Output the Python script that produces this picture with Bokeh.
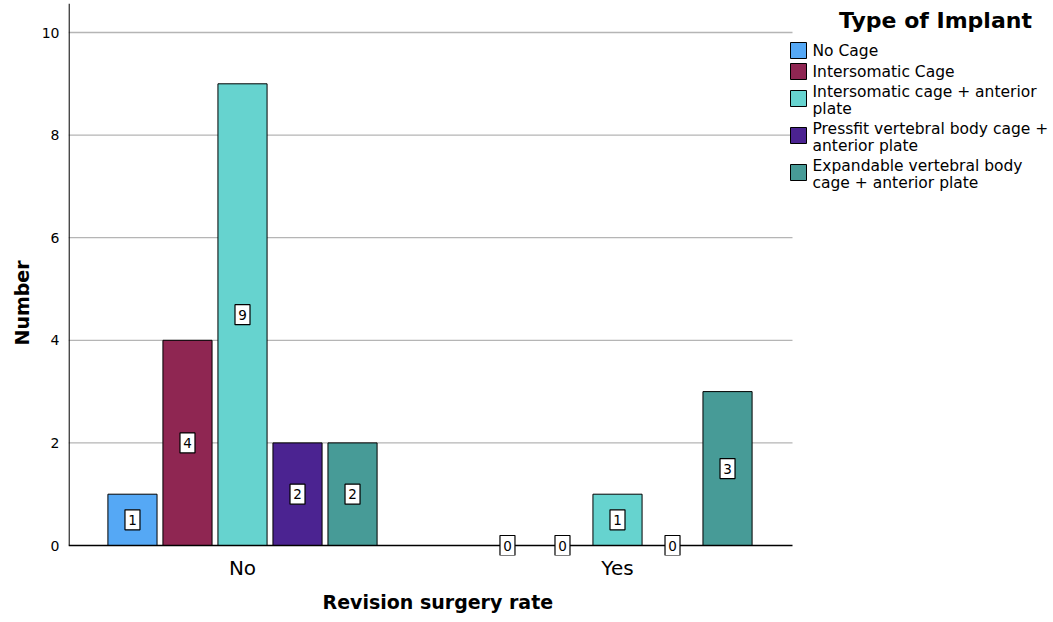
from bokeh.plotting import figure
from bokeh.models import ColumnDataSource, Range1d, FixedTicker, Title
from bokeh.core.properties import value
from bokeh.transform import dodge
from bokeh.embed import file_html
from bokeh.resources import INLINE

# ---- data ----
groups = ["No", "Yes"]
group_pos = [1, 2]
implants = ["No Cage", "Intersomatic Cage", "Intersomatic cage + anterior\nplate",
            "Pressfit vertebral body cage +\nanterior plate",
            "Expandable vertebral body\ncage + anterior plate"]
no_cage = [1, 0]
intersomatic = [4, 0]
intersomatic_plate = [9, 1]
pressfit_plate = [2, 0]
expandable_plate = [2, 3]
series = [no_cage, intersomatic, intersomatic_plate, pressfit_plate, expandable_plate]
colors = ["#55a8f5", "#8f2652", "#66d3cf", "#4b2391", "#479b97"]
y_ticks = [0, 2, 4, 6, 8, 10]
legend_title = "Type of Implant"
x_title = "Revision surgery rate"
y_title = "Number"

FONT = "DejaVu Sans"

W, H = 1052, 620
LEFT, TOP, BOTTOM = 68, 3, 555          # frame edges in page pixels
PX_X = 375.0                             # px per x unit
PX_Y = 51.3                              # px per y unit
X0 = 0.536
X1 = X0 + (W - LEFT) / PX_X
Y1 = (545 - TOP) / PX_Y
Y0 = (545 - BOTTOM) / PX_Y
X_AXIS_END = X0 + (792 - LEFT) / PX_X


def ydata(px):
    return (545.0 - px) / PX_Y


def xdata(px):
    return X0 + (px - LEFT) / PX_X


p = figure(width=W, height=H, output_backend="svg", toolbar_location=None,
           x_range=Range1d(X0, X1), y_range=Range1d(Y0, Y1),
           min_border_left=LEFT, min_border_right=0, min_border_top=TOP,
           min_border_bottom=H - BOTTOM)
p.outline_line_color = None
p.background_fill_color = "white"
p.border_fill_color = "white"
p.grid.grid_line_color = None

# horizontal gridlines (only across the plotting area)
grid_y = [t for t in y_ticks if t > 0]
p.segment(x0=[X0] * len(grid_y), x1=[X_AXIS_END] * len(grid_y), y0=grid_y, y1=grid_y,
          line_color="#b5b5b5", line_width=1.3, level="underlay")

# axes
p.yaxis.ticker = FixedTicker(ticks=y_ticks)
p.yaxis.major_label_text_font = FONT
p.yaxis.major_label_text_font_size = "14px"
p.yaxis.major_label_text_color = "black"
p.yaxis.major_label_standoff = 9
p.yaxis.major_tick_line_color = None
p.yaxis.major_tick_out = 0
p.yaxis.minor_tick_line_color = None
p.yaxis.axis_line_color = None

p.xaxis.ticker = FixedTicker(ticks=group_pos)
p.xaxis.major_label_overrides = {gp: g for gp, g in zip(group_pos, groups)}
p.xaxis.major_label_text_font = FONT
p.xaxis.major_label_text_font_size = "20px"
p.xaxis.major_label_text_color = "black"
p.xaxis.major_label_standoff = 0
p.xaxis.major_tick_line_color = None
p.xaxis.major_tick_out = 0
p.xaxis.minor_tick_line_color = None
p.xaxis.axis_line_color = None

# axis titles, centred over the data area as in the reference
p.add_layout(Title(text=x_title, align="left", offset=254, standoff=13,
                   text_font=FONT, text_font_size="19px", text_font_style="bold",
                   text_color="black"), "below")
p.add_layout(Title(text=y_title, align="left", offset=210, standoff=12,
                   text_font=FONT, text_font_size="19px", text_font_style="bold",
                   text_color="black"), "left")

# y axis line drawn over the data range only
p.segment(x0=[X0 + 0.0015], x1=[X0 + 0.0015], y0=[0], y1=[Y1], line_color="black",
          line_width=1.3)

pitch = 0.1467
bar_w = 0.131
for i, (name, vals, col) in enumerate(zip(implants, series, colors)):
    src = ColumnDataSource(dict(x=group_pos, top=vals))
    off = (i - 2) * pitch
    p.vbar(x=dodge("x", off), top="top", bottom=0, width=bar_w, source=src,
           fill_color=col, line_color="black", line_width=1)

# x axis line
p.segment(x0=[X0], x1=[X_AXIS_END], y0=[0], y1=[0], line_color="black", line_width=1.3)

# value labels
for i, (name, vals, col) in enumerate(zip(implants, series, colors)):
    src = ColumnDataSource(dict(x=group_pos, mid=[v / 2 for v in vals],
                                txt=[str(v) for v in vals]))
    off = (i - 2) * pitch
    p.rect(x=dodge("x", off), y="mid", width=15, height=20, width_units="screen",
           height_units="screen", source=src, fill_color="white",
           line_color="black", line_width=1.2)
    p.text(x=dodge("x", off), y="mid", text="txt", source=src,
           text_align="center", text_baseline="middle",
           text_font=value(FONT), text_font_size="13.5px", text_color="black")

# legend (drawn to the right of the plotting area)
p.text(x=[xdata(935)], y=[ydata(20)], text=[legend_title], text_align="center",
       text_baseline="middle", text_font=value(FONT), text_font_size="22px",
       text_font_style="bold", text_color="black")

line_px = 16.0
gap_px = 5.0
start = 42.0
leg_y_box, leg_y_txt = [], []
for name in implants:
    n = name.count("\n") + 1
    h = line_px * n
    c = start + h / 2
    leg_y_txt.append(ydata(c))
    leg_y_box.append(ydata(c - (2 if n > 1 else 0)))
    start += h + gap_px

leg_src = ColumnDataSource(dict(yb=leg_y_box, yt=leg_y_txt, label=implants, color=colors))
p.rect(x=xdata(798), y="yb", width=16, height=16, width_units="screen",
       height_units="screen", source=leg_src, fill_color="color",
       line_color="black", line_width=1)
p.text(x=xdata(812), y="yt", text="label", source=leg_src, text_align="left",
       text_baseline="middle", text_font=value(FONT), text_font_size="15.5px",
       text_line_height=0.9, text_color="black")

open("out.html", "w").write(file_html(p, INLINE))
